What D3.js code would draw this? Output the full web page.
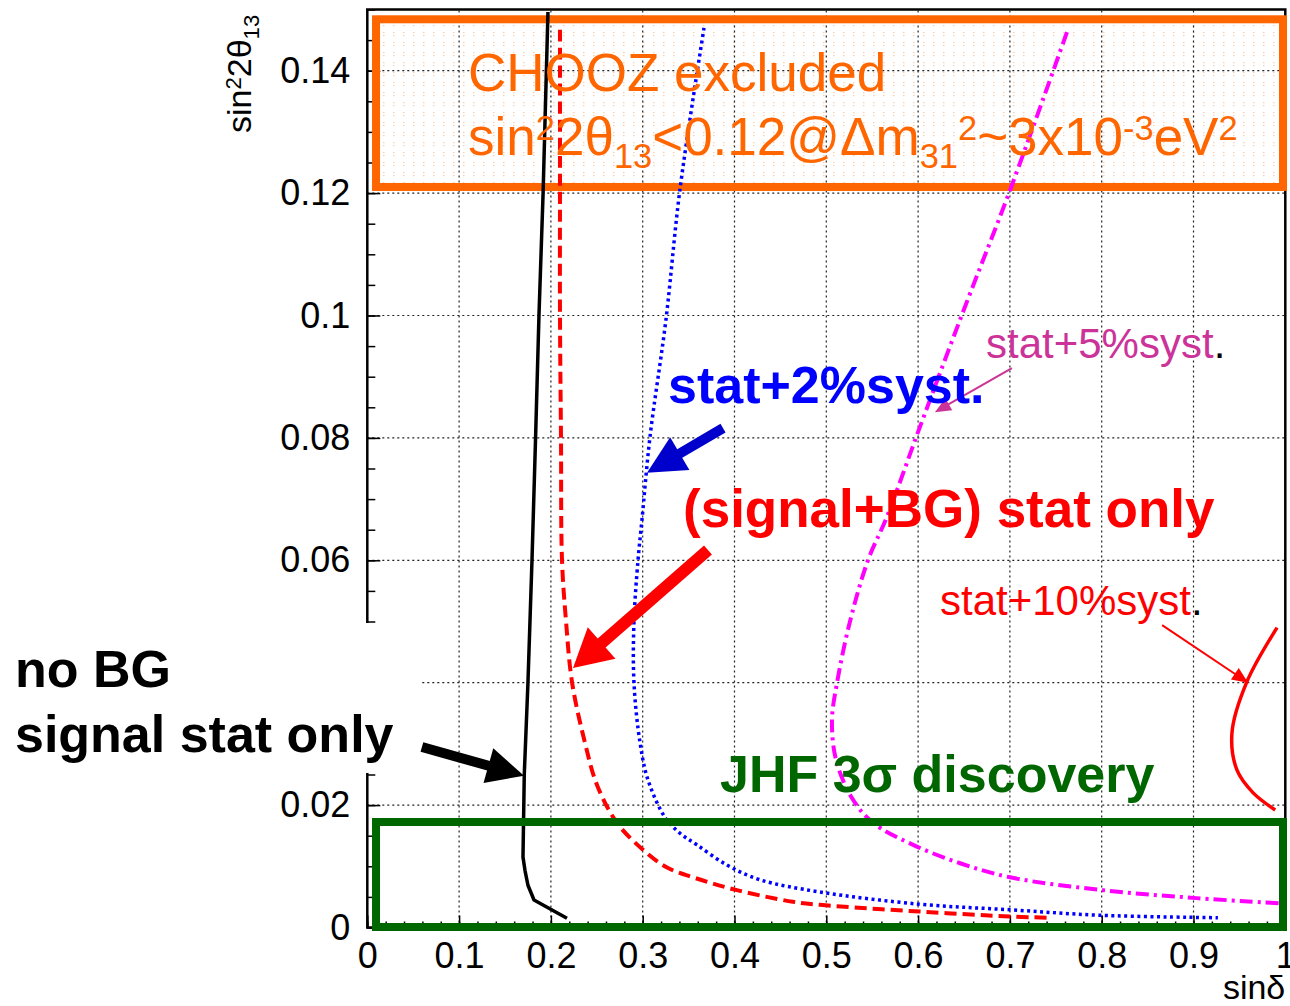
<!DOCTYPE html>
<html>
<head>
<meta charset="utf-8">
<script src="https://cdn.jsdelivr.net/npm/d3@7"></script>
<style>
body { margin: 0; background: #fff; }
svg { display: block; font-family: "Liberation Sans", Arial, sans-serif; }
</style>
</head>
<body>
<div id="chart-container"></div>
<script>
// x = sin(delta), y = sin^2(2 theta13)
const xTicks = [0, 0.1, 0.2, 0.3, 0.4, 0.5, 0.6, 0.7, 0.8, 0.9, 1];
const xTickLabels = ["0", "0.1", "0.2", "0.3", "0.4", "0.5", "0.6", "0.7", "0.8", "0.9", "1"];
const yTicks = [0, 0.02, 0.04, 0.06, 0.08, 0.1, 0.12, 0.14];
const yTickLabels = ["0", "0.02", "0.04", "0.06", "0.08", "0.1", "0.12", "0.14"];

// contours [sinδ, sin²2θ13]
const noBG = [[0.1968, 0.1496], [0.1915, 0.12], [0.187, 0.1], [0.1833, 0.08], [0.1794, 0.06],
    [0.175, 0.04], [0.171, 0.025], [0.1696, 0.0115], [0.1718, 0.0093], [0.175, 0.0069],
    [0.1816, 0.0045], [0.2175, 0.0015]];
const signalBG = [[0.2099, 0.1467], [0.2099, 0.1205], [0.2099, 0.1], [0.211, 0.08], [0.2121, 0.06],
    [0.2165, 0.05], [0.2231, 0.04], [0.2371, 0.0302], [0.2502, 0.0233], [0.272, 0.0171],
    [0.3003, 0.0127], [0.3265, 0.0098], [0.3548, 0.0082], [0.4027, 0.0061], [0.4637, 0.0042],
    [0.4931, 0.0037], [0.602, 0.0026], [0.70, 0.0018], [0.7415, 0.0016]];
const syst2 = [[0.3668, 0.147], [0.3405, 0.1205], [0.3253, 0.0993], [0.3079, 0.0801], [0.2992, 0.0666],
    [0.2949, 0.06], [0.2905, 0.05], [0.2905, 0.04], [0.2971, 0.0302], [0.3058, 0.0241],
    [0.3243, 0.018], [0.3406, 0.0154], [0.3591, 0.0135], [0.3918, 0.0102], [0.4278, 0.0078],
    [0.4931, 0.0058], [0.602, 0.0038], [0.70, 0.0029], [0.798, 0.002], [0.9266, 0.0016]];
const syst5 = [[0.7622, 0.1463], [0.7002, 0.1205], [0.651, 0.1014], [0.602, 0.0818], [0.566, 0.0671],
    [0.5454, 0.06], [0.5258, 0.05], [0.5117, 0.04], [0.5062, 0.0339], [0.5106, 0.0274],
    [0.5278, 0.0212], [0.551, 0.0171], [0.5946, 0.0135], [0.6458, 0.0105], [0.70, 0.0082],
    [0.8015, 0.0061], [0.9036, 0.0048], [1.0, 0.0039]];
const syst10 = [[0.991, 0.049], [0.958, 0.0401], [0.9419, 0.0318], [0.9474, 0.0257], [0.965, 0.022], [0.989, 0.0192]];

const width = 1290, height = 1006;

const svg = d3.select("#chart-container")
    .append("svg")
    .attr("width", width)
    .attr("height", height);

const x = d3.scaleLinear().domain([0, 1]).range([367.3, 1285.3]);
const y = d3.scaleLinear().domain([0, 0.15]).range([927.5, 9.5]);

// faint dot fill for the CHOOZ box
const pat = svg.append("defs").append("pattern")
    .attr("id", "dots").attr("patternUnits", "userSpaceOnUse")
    .attr("width", 10).attr("height", 10);
pat.append("rect").attr("x", 3).attr("y", 2).attr("width", 1.5).attr("height", 1.2).attr("fill", "#f9cfae");
pat.append("rect").attr("x", 3).attr("y", 5).attr("width", 1.5).attr("height", 1.2).attr("fill", "#f9cfae");

svg.append("rect")
    .attr("x", x(0.0095)).attr("y", y(0.1484))
    .attr("width", x(0.9975) - x(0.0095)).attr("height", y(0.121) - y(0.1484))
    .attr("fill", "url(#dots)");

// grid
const grid = svg.append("g").attr("stroke", "#222").attr("stroke-width", 1.2).attr("stroke-dasharray", "2,3");
grid.selectAll(".gx").data(xTicks.slice(1, -1)).enter().append("line")
    .attr("x1", d => x(d)).attr("x2", d => x(d)).attr("y1", y(0)).attr("y2", y(0.15));
grid.selectAll(".gy").data(yTicks.slice(1)).enter().append("line")
    .attr("x1", x(0)).attr("x2", x(1)).attr("y1", d => y(d)).attr("y2", d => y(d));

// axes
const xAxis = g => g
    .attr("transform", `translate(0,${y(0)})`)
    .call(d3.axisBottom(x).tickValues(xTicks).tickFormat((d, i) => xTickLabels[i]).tickSize(-12).tickPadding(15))
    .call(g => g.select(".domain").remove());
const xMinor = g => g
    .attr("transform", `translate(0,${y(0)})`)
    .call(d3.axisBottom(x).tickValues(d3.range(0, 1.0001, 0.02)).tickFormat("").tickSize(-6))
    .call(g => g.select(".domain").remove());
const yAxis = g => g
    .attr("transform", `translate(${x(0)},0)`)
    .call(d3.axisLeft(y).tickValues(yTicks).tickFormat((d, i) => yTickLabels[i]).tickSize(-13).tickPadding(17))
    .call(g => g.select(".domain").remove());
const yMinor = g => g
    .attr("transform", `translate(${x(0)},0)`)
    .call(d3.axisLeft(y).tickValues(d3.range(0, 0.1501, 0.005)).tickFormat("").tickSize(-8))
    .call(g => g.select(".domain").remove());

[xAxis, xMinor, yAxis, yMinor].forEach(a => {
    const g = svg.append("g").call(a);
    g.attr("font-size", 36).attr("font-family", null);
    g.selectAll("line").attr("stroke", "#000").attr("stroke-width", 1.5);
    g.selectAll("text").attr("fill", "#000");
});

svg.append("rect")
    .attr("x", x(0)).attr("y", y(0.15))
    .attr("width", x(1) - x(0)).attr("height", y(0) - y(0.15))
    .attr("fill", "none").attr("stroke", "#000").attr("stroke-width", 2.5);

// white label box that cuts the left axis
svg.append("rect")
    .attr("x", x(-0.4001)).attr("y", y(0.04975))
    .attr("width", x(0.0584) - x(-0.4001)).attr("height", y(0.02525) - y(0.04975))
    .attr("fill", "#fff");

// CHOOZ box outline
svg.append("rect")
    .attr("x", x(0.0095)).attr("y", y(0.1484))
    .attr("width", x(0.9975) - x(0.0095)).attr("height", y(0.121) - y(0.1484))
    .attr("fill", "none").attr("stroke", "#ff6600").attr("stroke-width", 8);

// curves
const line = d3.line().x(d => x(d[0])).y(d => y(d[1]));
const smooth = d3.line().x(d => x(d[0])).y(d => y(d[1])).curve(d3.curveCatmullRom);

svg.append("path").datum(syst5)
    .attr("fill", "none").attr("stroke", "#ff00ff").attr("stroke-width", 4)
    .attr("stroke-dasharray", "13,5,3,5").attr("d", smooth);
svg.append("path").datum(syst2)
    .attr("fill", "none").attr("stroke", "#0000ff").attr("stroke-width", 3.5)
    .attr("stroke-dasharray", "3,3.5").attr("d", smooth);
svg.append("path").datum(signalBG)
    .attr("fill", "none").attr("stroke", "#ff0000").attr("stroke-width", 4)
    .attr("stroke-dasharray", "12,6").attr("d", smooth);
svg.append("path").datum(noBG)
    .attr("fill", "none").attr("stroke", "#000").attr("stroke-width", 3.5)
    .attr("stroke-linejoin", "round").attr("d", line);
svg.append("path").datum(syst10)
    .attr("fill", "none").attr("stroke", "#ff0000").attr("stroke-width", 3.5)
    .attr("d", smooth);

// JHF box
svg.append("rect")
    .attr("x", x(0.0095)).attr("y", y(0.01724))
    .attr("width", x(0.9975) - x(0.0095)).attr("height", y(0.00008) - y(0.01724))
    .attr("fill", "none").attr("stroke", "#006600").attr("stroke-width", 8);

// arrows
const arrows = [
    { from: [0.3875, 0.0816], to: [0.3047, 0.0743], color: "#0000cc", shaft: 10, head: 38, half: 19 },
    { from: [0.3711, 0.0617], to: [0.2241, 0.0424], color: "#ff0000", shaft: 12, head: 38, half: 21 },
    { from: [0.0595, 0.0295], to: [0.1707, 0.0248], color: "#000", shaft: 10, head: 37, half: 18 },
    { from: [0.7022, 0.0914], to: [0.6183, 0.0842], color: "#cc3399", shaft: 2, head: 16, half: 7 },
    { from: [0.8658, 0.0494], to: [0.9595, 0.04], color: "#ff0000", shaft: 2, head: 16, half: 7 }
];
arrows.forEach(a => {
    const ax = x(a.from[0]), ay = y(a.from[1]), bx = x(a.to[0]), by = y(a.to[1]);
    const len = Math.hypot(bx - ax, by - ay);
    const ux = (bx - ax) / len, uy = (by - ay) / len;
    const nx = -uy, ny = ux;
    const cx = bx - ux * a.head, cy = by - uy * a.head;
    svg.append("line")
        .attr("x1", ax).attr("y1", ay).attr("x2", cx + ux * 3).attr("y2", cy + uy * 3)
        .attr("stroke", a.color).attr("stroke-width", a.shaft);
    svg.append("polygon")
        .attr("points", [[bx, by], [cx + nx * a.half, cy + ny * a.half], [cx - nx * a.half, cy - ny * a.half]].map(p => p.join(",")).join(" "))
        .attr("fill", a.color);
});

// rich text helper: segments [text, shift] with shift 1 = sup, -1 = sub
const rich = (g, segs, size, supDy, subDy) => {
    let cur = 0;
    segs.forEach(([t, s]) => {
        const target = s === 1 ? -supDy : s === -1 ? subDy : 0;
        g.append("tspan")
            .attr("dy", target - cur)
            .attr("font-size", s === 0 ? size : size * 0.65)
            .text(t);
        cur = target;
    });
};

// CHOOZ text
svg.append("text")
    .attr("x", x(0.1097)).attr("y", y(0.1367))
    .attr("font-size", 53).attr("fill", "#ff6600")
    .text("CHOOZ excluded");
rich(svg.append("text").attr("x", x(0.1097)).attr("y", y(0.1262)).attr("fill", "#ff6600"),
    [["sin", 0], ["2", 1], ["2θ", 0], ["13", -1], ["<0.12@Δm", 0], ["31", -1], ["2", 1],
     ["~3x10", 0], ["-3", 1], ["eV", 0], ["2", 1]], 53, 15, 13);

// labels
svg.append("text")
    .attr("x", x(0.3276)).attr("y", y(0.0857))
    .attr("font-size", 52).attr("font-weight", "bold").attr("fill", "#0000ff")
    .text("stat+2%syst.");
svg.append("text")
    .attr("x", x(0.3439)).attr("y", y(0.0654))
    .attr("font-size", 53).attr("font-weight", "bold").attr("fill", "#ff0000")
    .text("(signal+BG) stat only");
const t5 = svg.append("text").attr("x", x(0.674)).attr("y", y(0.0931)).attr("font-size", 42);
t5.append("tspan").attr("fill", "#cc3399").text("stat+5%syst");
t5.append("tspan").attr("fill", "#000").text(".");
const t10 = svg.append("text").attr("x", x(0.6239)).attr("y", y(0.0511)).attr("font-size", 42);
t10.append("tspan").attr("fill", "#ff0000").text("stat+10%syst");
t10.append("tspan").attr("fill", "#000").text(".");
svg.append("text")
    .attr("x", x(0.3842)).attr("y", y(0.0221))
    .attr("font-size", 52).attr("font-weight", "bold").attr("fill", "#006600")
    .text("JHF 3σ discovery");
svg.append("text")
    .attr("x", x(-0.3838)).attr("y", y(0.0393))
    .attr("font-size", 52).attr("font-weight", "bold").attr("fill", "#000")
    .text("no BG");
svg.append("text")
    .attr("x", x(-0.3838)).attr("y", y(0.0287))
    .attr("font-size", 52).attr("font-weight", "bold").attr("fill", "#000")
    .text("signal stat only");

// axis titles
svg.append("text")
    .attr("x", x(1)).attr("y", 999)
    .attr("text-anchor", "end").attr("font-size", 34)
    .text("sinδ");
rich(svg.append("text").attr("transform", "translate(251,133) rotate(-90)"),
    [["sin", 0], ["2", 1], ["2θ", 0], ["13", -1]], 34, 10, 8);
</script>
</body>
</html>
